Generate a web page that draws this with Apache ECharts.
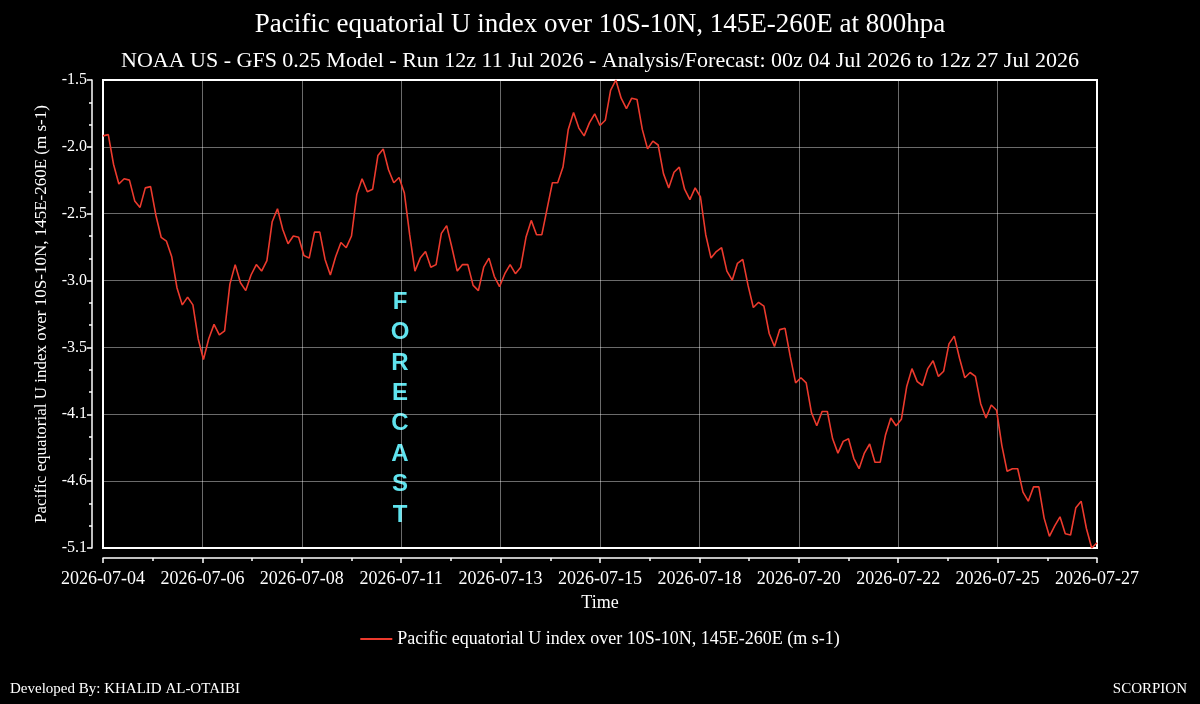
<!DOCTYPE html>
<html>
<head>
<meta charset="utf-8">
<script src="https://cdn.jsdelivr.net/npm/echarts@6/dist/echarts.min.js"></script>
<style>
  html, body { margin: 0; padding: 0; background: #000; }
  #chart { width: 1200px; height: 704px; }
</style>
</head>
<body>
<div id="chart"></div>
<script>
// 3-hourly values, 00z 04 Jul 2026 -> 12z 27 Jul 2026
const stepHours = 3;
const uIndex = [
  -1.93, -1.92, -2.15, -2.30, -2.26, -2.27, -2.43, -2.48, -2.33, -2.32,
  -2.54, -2.71, -2.74, -2.86, -3.10, -3.23, -3.17, -3.23, -3.49, -3.65,
  -3.49, -3.38, -3.46, -3.43, -3.07, -2.92, -3.06, -3.12, -3.00, -2.92,
  -2.97, -2.89, -2.59, -2.49, -2.65, -2.76, -2.70, -2.71, -2.85, -2.87,
  -2.67, -2.67, -2.88, -3.00, -2.86, -2.75, -2.79, -2.70, -2.38, -2.26,
  -2.36, -2.34, -2.08, -2.03, -2.19, -2.29, -2.25, -2.37, -2.69, -2.97,
  -2.87, -2.82, -2.94, -2.92, -2.68, -2.62, -2.79, -2.97, -2.92, -2.92,
  -3.08, -3.12, -2.94, -2.87, -3.01, -3.09, -2.99, -2.92, -2.99, -2.94,
  -2.71, -2.58, -2.69, -2.69, -2.49, -2.29, -2.29, -2.17, -1.88, -1.75,
  -1.87, -1.93, -1.83, -1.76, -1.85, -1.81, -1.58, -1.50, -1.64, -1.72,
  -1.64, -1.65, -1.88, -2.03, -1.97, -2.00, -2.22, -2.33, -2.21, -2.17,
  -2.34, -2.42, -2.33, -2.40, -2.69, -2.87, -2.82, -2.79, -2.97, -3.04,
  -2.91, -2.88, -3.08, -3.25, -3.21, -3.24, -3.45, -3.55, -3.42, -3.41,
  -3.63, -3.83, -3.79, -3.83, -4.06, -4.16, -4.05, -4.05, -4.26, -4.37,
  -4.28, -4.26, -4.41, -4.49, -4.37, -4.30, -4.44, -4.44, -4.23, -4.10,
  -4.16, -4.11, -3.86, -3.72, -3.82, -3.85, -3.72, -3.66, -3.78, -3.74,
  -3.53, -3.47, -3.64, -3.79, -3.75, -3.78, -3.99, -4.10, -4.00, -4.04,
  -4.31, -4.51, -4.49, -4.49, -4.67, -4.74, -4.63, -4.63, -4.87, -5.01,
  -4.93, -4.86, -4.99, -5.00, -4.79, -4.74, -4.95, -5.10, -5.06
];
const xTickLabels = [
  '2026-07-04', '2026-07-06', '2026-07-08', '2026-07-11', '2026-07-13', '2026-07-15',
  '2026-07-18', '2026-07-20', '2026-07-22', '2026-07-25', '2026-07-27'
];
const yTickLabels = ['-5.1', '-4.6', '-4.1', '-3.5', '-3.0', '-2.5', '-2.0', '-1.5'];

const seriesName = 'Pacific equatorial U index over 10S-10N, 145E-260E (m s-1)';
const yMin = -5.1, yMax = -1.5;
const totalHours = (uIndex.length - 1) * stepHours;
const xStep = totalHours / (xTickLabels.length - 1);

let yStep = (yMax - yMin) / (yTickLabels.length - 1);
let yTickValues = yTickLabels.map((_, i) => yMin + i * yStep);
let yMinorValues = [];
for (let i = 0; i < yTickValues.length - 1; i++) {
    yMinorValues.push(yTickValues[i] + yStep / 3, yTickValues[i] + 2 * yStep / 3);
}

const serif = 'Liberation Serif, Times New Roman, serif';
const gridColor = 'rgba(255,255,255,0.42)';

let chart = echarts.init(document.getElementById('chart'));
chart.setOption({
    backgroundColor: '#000',
    animation: false,
    title: [
        {
            text: 'Pacific equatorial U index over 10S-10N, 145E-260E at 800hpa',
            left: 'center', top: 6,
            textStyle: { color: '#fff', fontFamily: serif, fontWeight: 'normal', fontSize: 27 }
        },
        {
            text: 'NOAA US - GFS 0.25 Model - Run 12z 11 Jul 2026 - Analysis/Forecast: 00z 04 Jul 2026 to 12z 27 Jul 2026',
            left: 'center', top: 45,
            textStyle: { color: '#fff', fontFamily: serif, fontWeight: 'normal', fontSize: 22 }
        },
        {
            text: 'Developed By: KHALID AL-OTAIBI',
            left: 5, top: 677,
            textStyle: { color: '#fff', fontFamily: serif, fontWeight: 'normal', fontSize: 15 }
        },
        {
            text: 'SCORPION',
            right: 8, top: 677,
            textStyle: { color: '#fff', fontFamily: serif, fontWeight: 'normal', fontSize: 15 }
        }
    ],
    legend: {
        data: [seriesName],
        left: 'center', top: 625,
        icon: 'rect', itemWidth: 32, itemHeight: 2, itemGap: 6,
        textStyle: { color: '#fff', fontFamily: serif, fontSize: 18 }
    },
    grid: {
        left: 103, right: 103, top: 80, bottom: 156,
        show: true, borderColor: '#fff', borderWidth: 2, backgroundColor: 'transparent'
    },
    xAxis: {
        type: 'value',
        min: 0, max: totalHours, interval: xStep,
        offset: 10,
        name: 'Time', nameLocation: 'middle', nameGap: 36,
        nameTextStyle: { color: '#fff', fontFamily: serif, fontSize: 18 },
        axisLine: { show: true, onZero: false, lineStyle: { color: '#fff', width: 1.5 } },
        axisTick: { show: true, length: 5, lineStyle: { color: '#fff', width: 1.5 } },
        minorTick: { show: true, splitNumber: 2, length: 3, lineStyle: { color: '#fff', width: 1.5 } },
        axisLabel: {
            color: '#fff', fontFamily: serif, fontSize: 18, margin: 12,
            formatter: v => xTickLabels[Math.round(v / xStep)]
        },
        splitLine: { show: true, lineStyle: { color: gridColor, width: 1 } }
    },
    yAxis: [
        {
            type: 'value',
            min: yMin, max: yMax,
            position: 'left', offset: 11,
            name: seriesName, nameLocation: 'middle', nameGap: 42,
            nameTextStyle: { color: '#fff', fontFamily: serif, fontSize: 17 },
            axisLine: { show: true, onZero: false, lineStyle: { color: '#fff', width: 1.5 } },
            axisTick: { show: true, length: 5, customValues: yTickValues, lineStyle: { color: '#fff', width: 1.5 } },
            axisLabel: {
                color: '#fff', fontFamily: serif, fontSize: 16, margin: 5,
                customValues: yTickValues,
                formatter: v => {
                    let k = yTickValues.findIndex(t => Math.abs(t - v) < 1e-6);
                    return k >= 0 ? yTickLabels[k] : '';
                }
            },
            splitLine: { show: true, lineStyle: { color: gridColor, width: 1 } }
        },
        {
            // minor ticks only
            type: 'value',
            min: yMin, max: yMax,
            position: 'left', offset: 11,
            axisLine: { show: false, onZero: false },
            axisTick: { show: true, length: 3, customValues: yMinorValues, lineStyle: { color: '#fff', width: 1.5 } },
            axisLabel: { show: false },
            splitLine: { show: false }
        }
    ],
    graphic: [
        {
            type: 'text',
            x: 400, y: 287,
            style: {
                text: 'F\nO\nR\nE\nC\nA\nS\nT',
                fill: '#5fe3ee',
                font: 'bold 24px Liberation Sans, Arial, sans-serif',
                lineHeight: 30.4,
                align: 'center',
                verticalAlign: 'top'
            }
        }
    ],
    series: [
        {
            name: seriesName,
            type: 'line',
            yAxisIndex: 0,
            showSymbol: false,
            symbol: 'none',
            data: uIndex.map((v, i) => [i * stepHours, v]),
            lineStyle: { color: '#ec3a2d', width: 1.6 },
            itemStyle: { color: '#ec3a2d' }
        }
    ]
});
</script>
</body>
</html>
